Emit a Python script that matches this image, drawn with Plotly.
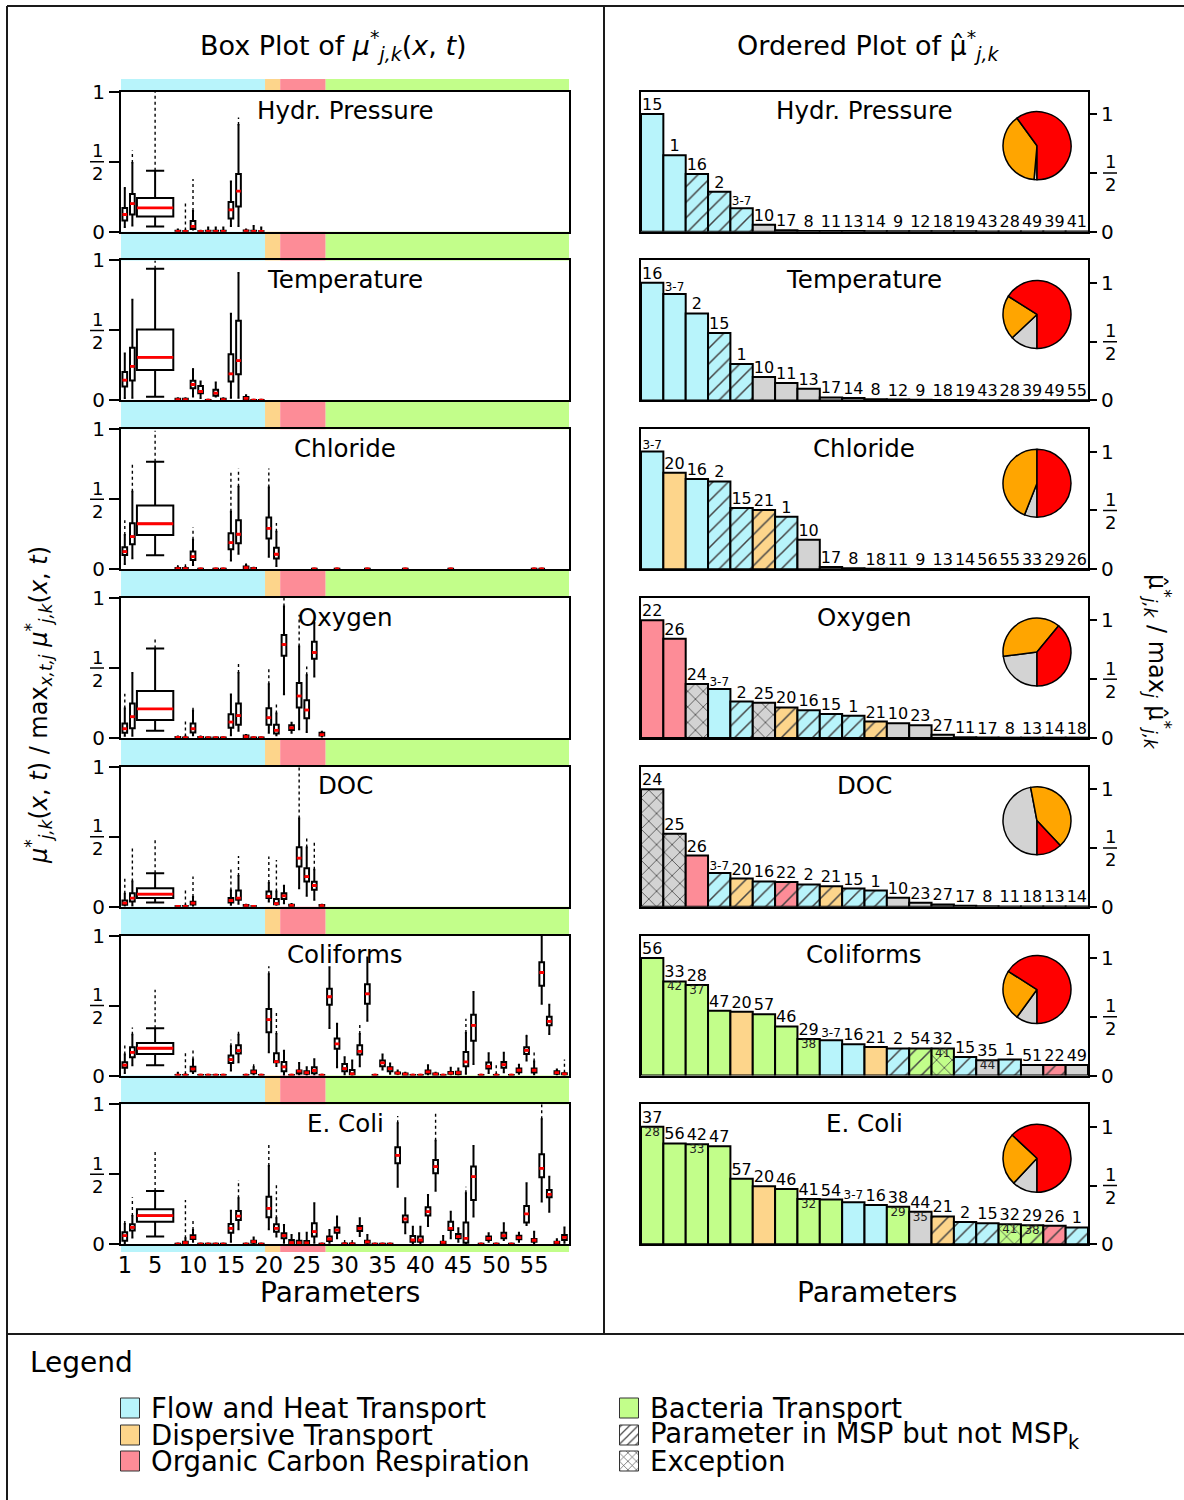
import plotly.graph_objects as go

W, H = 1184, 1500
FONT = "DejaVu Sans"

OUTPUTS = ["Hydr. Pressure", "Temperature", "Chloride", "Oxygen", "DOC", "Coliforms", "E. Coli"]

GROUP_COLORS = {"F": "#B8F4FB", "D": "#FDD58B", "O": "#FD8C97", "B": "#C2FE8A", "N": "#D3D3D3", "W": "#FFFFFF"}
GROUP_ORDER = ["F", "D", "O", "B"]
GROUP_EDGES = [0.5, 19.5, 21.5, 27.5, 59.6]
PIE_COLORS = ["#FF0000", "#FFA500", "#D3D3D3"]

X_TICKS = [1, 5, 10, 15, 20, 25, 30, 35, 40, 45, 50, 55]

# ---------------- box plot statistics: param -> (low whisker, q1, median, q3, high whisker, max outlier)
TINY = (0.0, 0.0, 0.002, 0.004, 0.006, 0.006)

BOX_HYDR = {
    1: (0.033, 0.08, 0.123, 0.17, 0.31, 0.32), 2: (0.045, 0.123, 0.2, 0.27, 0.49, 0.58),
    5: (0.038, 0.109, 0.17, 0.24, 0.436, 1.0), 8: (0, 0, 0.003, 0.006, 0.015, 0.015),
    9: (0, 0, 0.002, 0.004, 0.008, 0.22), 10: (0.015, 0.02, 0.038, 0.076, 0.147, 0.377),
    11: TINY, 12: (0, 0, 0.003, 0.006, 0.03, 0.03), 13: (0, 0, 0.003, 0.006, 0.03, 0.03),
    14: (0, 0, 0.003, 0.006, 0.03, 0.03), 15: (0.04, 0.095, 0.156, 0.213, 0.358, 0.358),
    16: (0.04, 0.18, 0.29, 0.412, 0.763, 0.815), 17: (0, 0, 0.004, 0.008, 0.015, 0.015),
    18: (0, 0, 0.003, 0.006, 0.04, 0.04), 19: (0, 0, 0.002, 0.004, 0.03, 0.03),
}
BOX_TEMP = {
    1: (0.017, 0.1, 0.145, 0.204, 0.336, 0.336), 2: (0.02, 0.142, 0.244, 0.377, 0.72, 0.72),
    5: (0.026, 0.218, 0.308, 0.507, 0.94, 1.0), 8: (0, 0, 0.006, 0.012, 0.015, 0.015),
    9: (0, 0, 0.006, 0.012, 0.015, 0.015), 10: (0.028, 0.088, 0.114, 0.14, 0.223, 0.23),
    11: (0.017, 0.052, 0.064, 0.104, 0.135, 0.135), 12: TINY,
    13: (0.028, 0.033, 0.052, 0.076, 0.128, 0.128), 14: (0, 0, 0.006, 0.012, 0.015, 0.015),
    15: (0.02, 0.135, 0.19, 0.33, 0.62, 0.62), 16: (0.02, 0.187, 0.284, 0.569, 0.91, 0.91),
    17: (0, 0.005, 0.015, 0.025, 0.038, 0.038), 18: TINY, 19: TINY,
}
BOX_CHLO = {
    1: (0.038, 0.102, 0.126, 0.157, 0.245, 0.35), 2: (0.078, 0.178, 0.233, 0.328, 0.553, 0.76),
    5: (0.1, 0.245, 0.325, 0.456, 0.767, 0.99), 8: (0, 0, 0.004, 0.008, 0.015, 0.03),
    9: (0, 0, 0.004, 0.008, 0.015, 0.055), 10: (0.03, 0.066, 0.09, 0.126, 0.21, 0.3),
    11: TINY, 13: TINY, 14: TINY,
    15: (0.062, 0.143, 0.19, 0.257, 0.41, 0.71), 16: (0.11, 0.185, 0.25, 0.35, 0.59, 0.72),
    17: (0, 0.004, 0.012, 0.02, 0.03, 0.043), 18: (0, 0, 0.004, 0.008, 0.01, 0.01),
    20: (0.09, 0.22, 0.292, 0.37, 0.584, 0.72), 21: (0.024, 0.076, 0.107, 0.154, 0.268, 0.33),
    26: TINY, 29: TINY, 33: TINY, 38: TINY, 44: TINY, 55: TINY, 56: TINY,
}
BOX_OXY = {
    1: (0.017, 0.038, 0.066, 0.104, 0.21, 0.317), 2: (0.017, 0.069, 0.152, 0.246, 0.464, 0.464),
    5: (0.052, 0.128, 0.208, 0.336, 0.64, 0.71), 8: (0, 0, 0.004, 0.008, 0.01, 0.01),
    9: (0, 0, 0.002, 0.004, 0.01, 0.12), 10: (0.02, 0.04, 0.066, 0.104, 0.194, 0.235),
    11: (0, 0, 0.004, 0.008, 0.01, 0.01), 12: TINY, 13: TINY, 14: TINY,
    15: (0.02, 0.073, 0.114, 0.17, 0.31, 0.31), 16: (0.052, 0.095, 0.16, 0.246, 0.464, 0.53),
    17: (0, 0.005, 0.01, 0.018, 0.022, 0.022), 18: TINY, 19: TINY,
    20: (0.038, 0.095, 0.145, 0.213, 0.384, 0.507), 21: (0.02, 0.033, 0.055, 0.095, 0.175, 0.246),
    22: (0.313, 0.588, 0.668, 0.735, 0.94, 1.0), 23: (0.038, 0.057, 0.073, 0.092, 0.109, 0.109),
    24: (0.062, 0.218, 0.3, 0.393, 0.654, 0.88), 25: (0.043, 0.142, 0.2, 0.27, 0.448, 0.51),
    26: (0.44, 0.566, 0.611, 0.687, 0.822, 0.86), 27: (0.01, 0.018, 0.024, 0.038, 0.045, 0.045),
}
BOX_DOC = {
    1: (0.01, 0.014, 0.026, 0.045, 0.093, 0.21), 2: (0.01, 0.038, 0.062, 0.097, 0.18, 0.418),
    5: (0.031, 0.062, 0.09, 0.133, 0.24, 0.496), 8: TINY,
    9: (0, 0, 0.003, 0.006, 0.01, 0.133), 10: (0.007, 0.017, 0.026, 0.036, 0.069, 0.216),
    15: (0.014, 0.031, 0.045, 0.062, 0.116, 0.268), 16: (0.021, 0.05, 0.062, 0.116, 0.22, 0.363),
    17: (0, 0.003, 0.008, 0.012, 0.015, 0.015), 18: TINY,
    20: (0.038, 0.062, 0.074, 0.109, 0.169, 0.359), 21: (0.014, 0.018, 0.022, 0.055, 0.109, 0.335),
    22: (0.026, 0.055, 0.078, 0.097, 0.15, 0.15), 23: (0, 0.005, 0.01, 0.015, 0.02, 0.02),
    24: (0.133, 0.287, 0.347, 0.425, 0.63, 1.0), 25: (0.078, 0.18, 0.216, 0.276, 0.423, 0.506),
    26: (0.05, 0.121, 0.152, 0.178, 0.264, 0.473), 27: (0, 0.003, 0.008, 0.012, 0.015, 0.015),
}
BOX_COLI = {
    1: (0.019, 0.055, 0.074, 0.095, 0.15, 0.233), 2: (0.074, 0.13, 0.166, 0.202, 0.292, 0.344),
    5: (0.074, 0.154, 0.195, 0.233, 0.337, 0.613), 8: (0, 0, 0.002, 0.004, 0.02, 0.02),
    9: (0, 0, 0.002, 0.004, 0.01, 0.178), 10: (0.019, 0.031, 0.048, 0.062, 0.114, 0.185),
    11: TINY, 12: TINY, 13: TINY, 14: TINY,
    15: (0.036, 0.09, 0.114, 0.143, 0.209, 0.256), 16: (0.095, 0.157, 0.178, 0.216, 0.292, 0.335),
    17: TINY, 18: (0.007, 0.017, 0.026, 0.036, 0.059, 0.1), 19: TINY,
    20: (0.166, 0.309, 0.399, 0.475, 0.724, 0.78), 21: (0.069, 0.095, 0.1, 0.16, 0.297, 0.463),
    22: (0.002, 0.031, 0.062, 0.097, 0.178, 0.178), 23: TINY,
    24: (0.007, 0.014, 0.031, 0.036, 0.09, 0.09), 25: (0.005, 0.012, 0.021, 0.031, 0.059, 0.059),
    26: (0.007, 0.017, 0.036, 0.059, 0.116, 0.116), 27: TINY,
    28: (0.34, 0.506, 0.563, 0.62, 0.774, 0.774), 29: (0.059, 0.192, 0.226, 0.264, 0.37, 0.37),
    30: (0.007, 0.031, 0.05, 0.083, 0.13, 0.13), 31: (0.002, 0.007, 0.012, 0.04, 0.107, 0.107),
    32: (0.066, 0.15, 0.173, 0.216, 0.297, 0.363), 33: (0.392, 0.513, 0.584, 0.653, 0.843, 0.843),
    34: TINY, 35: (0.043, 0.066, 0.09, 0.107, 0.15, 0.15),
    36: (0.012, 0.031, 0.05, 0.059, 0.086, 0.086), 37: (0.01, 0.014, 0.017, 0.021, 0.036, 0.036),
    38: (0, 0.004, 0.01, 0.014, 0.02, 0.02), 39: TINY, 40: TINY,
    41: (0.007, 0.014, 0.026, 0.036, 0.074, 0.074), 42: (0, 0.004, 0.01, 0.014, 0.02, 0.02),
    43: TINY, 44: (0.007, 0.012, 0.017, 0.026, 0.055, 0.055),
    45: (0.005, 0.01, 0.02, 0.028, 0.05, 0.05), 46: (0.012, 0.066, 0.097, 0.169, 0.304, 0.406),
    47: (0.083, 0.249, 0.359, 0.435, 0.596, 0.596), 48: TINY,
    49: (0.019, 0.05, 0.066, 0.093, 0.159, 0.159), 50: (0, 0, 0.002, 0.004, 0.01, 0.09),
    51: (0.024, 0.055, 0.078, 0.097, 0.162, 0.162), 52: TINY,
    53: (0.012, 0.024, 0.038, 0.05, 0.078, 0.078), 54: (0.107, 0.154, 0.18, 0.202, 0.28, 0.292),
    55: (0.007, 0.021, 0.038, 0.05, 0.1, 0.173), 56: (0.513, 0.641, 0.736, 0.81, 1.0, 1.0),
    57: (0.297, 0.359, 0.387, 0.42, 0.506, 0.506), 58: (0.007, 0.012, 0.021, 0.031, 0.043, 0.043),
    59: (0, 0.007, 0.012, 0.017, 0.02, 0.114),
}
BOX_ECOLI = {
    1: (0.007, 0.026, 0.062, 0.086, 0.145, 0.174), 2: (0.048, 0.098, 0.121, 0.143, 0.202, 0.336),
    5: (0.055, 0.162, 0.205, 0.25, 0.381, 0.662), 8: TINY,
    9: (0, 0.007, 0.012, 0.019, 0.043, 0.317), 10: (0.019, 0.038, 0.05, 0.064, 0.102, 0.179),
    11: TINY, 12: TINY, 13: TINY, 14: TINY,
    15: (0.019, 0.083, 0.114, 0.145, 0.24, 0.24), 16: (0.107, 0.174, 0.202, 0.238, 0.329, 0.46),
    17: TINY, 18: (0.007, 0.012, 0.019, 0.026, 0.048, 0.048), 19: TINY,
    20: (0.107, 0.193, 0.257, 0.34, 0.56, 0.721), 21: (0.055, 0.09, 0.114, 0.143, 0.186, 0.436),
    22: (0.012, 0.043, 0.062, 0.079, 0.138, 0.138), 23: (0.002, 0.007, 0.012, 0.031, 0.067, 0.067),
    24: (0.002, 0.007, 0.012, 0.026, 0.079, 0.079), 25: (0.002, 0.007, 0.01, 0.024, 0.083, 0.083),
    26: (0.012, 0.055, 0.09, 0.15, 0.293, 0.293), 27: TINY,
    28: (0.012, 0.024, 0.038, 0.055, 0.102, 0.102), 29: (0.043, 0.083, 0.102, 0.121, 0.198, 0.198),
    30: (0, 0, 0.003, 0.006, 0.01, 0.043), 31: (0, 0, 0.003, 0.006, 0.01, 0.043),
    32: (0.06, 0.095, 0.114, 0.131, 0.186, 0.186), 33: (0.002, 0.012, 0.017, 0.026, 0.067, 0.067),
    34: TINY, 35: TINY, 36: TINY,
    37: (0.412, 0.579, 0.636, 0.693, 0.864, 0.917), 38: (0.079, 0.157, 0.181, 0.205, 0.329, 0.329),
    39: (0.002, 0.019, 0.031, 0.06, 0.126, 0.126), 40: (0.002, 0.019, 0.031, 0.055, 0.126, 0.126),
    41: (0.131, 0.205, 0.233, 0.264, 0.352, 0.352), 42: (0.383, 0.507, 0.555, 0.602, 0.74, 0.936),
    43: (0.002, 0.007, 0.014, 0.019, 0.06, 0.06), 44: (0.043, 0.102, 0.114, 0.162, 0.233, 0.233),
    45: (0.019, 0.043, 0.055, 0.074, 0.114, 0.114), 46: (0.002, 0.012, 0.043, 0.155, 0.364, 0.412),
    47: (0.198, 0.317, 0.483, 0.555, 0.702, 0.702), 48: TINY,
    49: (0.019, 0.031, 0.043, 0.055, 0.079, 0.079), 50: TINY,
    51: (0.031, 0.043, 0.062, 0.083, 0.15, 0.15), 52: TINY,
    53: (0.019, 0.036, 0.048, 0.062, 0.083, 0.083), 54: (0.138, 0.155, 0.217, 0.274, 0.436, 0.436),
    55: (0.007, 0.019, 0.029, 0.038, 0.09, 0.09), 56: (0.305, 0.479, 0.543, 0.643, 0.893, 1.0),
    57: (0.233, 0.336, 0.357, 0.388, 0.483, 0.483), 58: (0.002, 0.007, 0.014, 0.019, 0.036, 0.036),
    59: (0.012, 0.031, 0.05, 0.067, 0.121, 0.121),
}
BOXES = [BOX_HYDR, BOX_TEMP, BOX_CHLO, BOX_OXY, BOX_DOC, BOX_COLI, BOX_ECOLI]
WIDE_PARAM = 5  # parameters 3-7 shown as one wide box

# ---------------- ordered bar plots
HYDR_LABELS = ["15", "1", "16", "2", "3-7", "10", "17", "8", "11", "13", "14", "9", "12", "18", "19", "43", "28", "49", "39", "41"]
HYDR_VALUES = [1.0, 0.65, 0.49, 0.34, 0.20, 0.06, 0.012, 0.006, 0.005, 0.005, 0.004, 0.004, 0.003, 0.003, 0.003, 0.002, 0.002, 0.002, 0.002, 0.002]
HYDR_GROUPS = ["F", "F", "F", "F", "F", "N", "N", "N", "N", "N", "N", "N", "N", "N", "N", "N", "N", "N", "N", "N"]
HYDR_HATCH = ["", "", "/", "/", "/", "", "", "", "", "", "", "", "", "", "", "", "", "", "", ""]
HYDR_SUB = [""] * 20

TEMP_LABELS = ["16", "3-7", "2", "15", "1", "10", "11", "13", "17", "14", "8", "12", "9", "18", "19", "43", "28", "39", "49", "55"]
TEMP_VALUES = [1.0, 0.906, 0.74, 0.574, 0.31, 0.20, 0.148, 0.10, 0.026, 0.02, 0.01, 0.008, 0.006, 0.003, 0.003, 0.002, 0.002, 0.002, 0.002, 0.002]
TEMP_GROUPS = ["F", "F", "F", "F", "F", "N", "N", "N", "N", "N", "N", "N", "N", "N", "N", "N", "N", "N", "N", "N"]
TEMP_HATCH = ["", "", "", "/", "/", "", "", "", "", "", "", "", "", "", "", "", "", "", "", ""]
TEMP_SUB = [""] * 20

CHLO_LABELS = ["3-7", "20", "16", "2", "15", "21", "1", "10", "17", "8", "18", "11", "9", "13", "14", "56", "55", "33", "29", "26"]
CHLO_VALUES = [1.0, 0.82, 0.766, 0.746, 0.52, 0.504, 0.447, 0.25, 0.02, 0.008, 0.004, 0.004, 0.003, 0.003, 0.003, 0.002, 0.002, 0.002, 0.002, 0.002]
CHLO_GROUPS = ["F", "D", "F", "F", "F", "D", "F", "N", "N", "N", "N", "N", "N", "N", "N", "N", "N", "N", "N", "N"]
CHLO_HATCH = ["", "", "", "/", "/", "/", "/", "", "", "", "", "", "", "", "", "", "", "", "", ""]
CHLO_SUB = [""] * 20

OXY_LABELS = ["22", "26", "24", "3-7", "2", "25", "20", "16", "15", "1", "21", "10", "23", "27", "11", "17", "8", "13", "14", "18"]
OXY_VALUES = [1.0, 0.844, 0.46, 0.416, 0.31, 0.30, 0.26, 0.235, 0.204, 0.19, 0.14, 0.125, 0.108, 0.028, 0.006, 0.004, 0.003, 0.003, 0.003, 0.003]
OXY_GROUPS = ["O", "O", "N", "F", "F", "N", "D", "F", "F", "F", "D", "N", "N", "N", "N", "N", "N", "N", "N", "N"]
OXY_HATCH = ["", "", "x", "", "/", "x", "/", "/", "/", "/", "/", "", "", "", "", "", "", "", "", ""]
OXY_SUB = [""] * 20

DOC_LABELS = ["24", "25", "26", "3-7", "20", "16", "22", "2", "21", "15", "1", "10", "23", "27", "17", "8", "11", "18", "13", "14"]
DOC_VALUES = [1.0, 0.62, 0.435, 0.288, 0.24, 0.215, 0.21, 0.19, 0.175, 0.155, 0.138, 0.076, 0.034, 0.02, 0.008, 0.005, 0.003, 0.003, 0.003, 0.003]
DOC_GROUPS = ["N", "N", "O", "F", "D", "F", "O", "F", "D", "F", "F", "N", "N", "N", "N", "N", "N", "N", "N", "N"]
DOC_HATCH = ["x", "x", "", "/", "/", "/", "/", "/", "/", "/", "/", "", "", "", "", "", "", "", "", ""]
DOC_SUB = [""] * 20

COLI_LABELS = ["56", "33", "28", "47", "20", "57", "46", "29", "3-7", "16", "21", "2", "54", "32", "15", "35", "1", "51", "22", "49"]
COLI_SUB = ["", "42", "37", "", "", "", "", "38", "", "", "", "", "", "41", "", "44", "", "", "", ""]
COLI_VALUES = [1.0, 0.80, 0.77, 0.55, 0.543, 0.52, 0.417, 0.31, 0.30, 0.266, 0.243, 0.23, 0.23, 0.23, 0.157, 0.13, 0.137, 0.09, 0.09, 0.09]
COLI_GROUPS = ["B", "B", "B", "B", "D", "B", "B", "B", "F", "F", "D", "F", "B", "B", "F", "N", "F", "N", "O", "N"]
COLI_HATCH = ["", "", "", "", "", "", "", "", "", "", "", "/", "/", "x", "/", "", "/", "", "/", ""]

ECOLI_LABELS = ["37", "56", "42", "47", "57", "20", "46", "41", "54", "3-7", "16", "38", "44", "21", "2", "15", "32", "29", "26", "1"]
ECOLI_SUB = ["28", "", "33", "", "", "", "", "32", "", "", "", "29", "35", "", "", "", "41", "38", "", ""]
ECOLI_VALUES = [1.0, 0.857, 0.85, 0.834, 0.557, 0.494, 0.47, 0.386, 0.38, 0.357, 0.334, 0.32, 0.277, 0.237, 0.19, 0.18, 0.17, 0.163, 0.157, 0.143]
ECOLI_GROUPS = ["B", "B", "B", "B", "B", "D", "B", "B", "B", "F", "F", "B", "N", "D", "F", "F", "B", "B", "O", "F"]
ECOLI_HATCH = ["", "", "", "", "", "", "", "", "", "", "", "", "", "/", "/", "/", "x", "/", "/", "/"]

BARS = [
    (HYDR_LABELS, HYDR_VALUES, HYDR_GROUPS, HYDR_HATCH, HYDR_SUB),
    (TEMP_LABELS, TEMP_VALUES, TEMP_GROUPS, TEMP_HATCH, TEMP_SUB),
    (CHLO_LABELS, CHLO_VALUES, CHLO_GROUPS, CHLO_HATCH, CHLO_SUB),
    (OXY_LABELS, OXY_VALUES, OXY_GROUPS, OXY_HATCH, OXY_SUB),
    (DOC_LABELS, DOC_VALUES, DOC_GROUPS, DOC_HATCH, DOC_SUB),
    (COLI_LABELS, COLI_VALUES, COLI_GROUPS, COLI_HATCH, COLI_SUB),
    (ECOLI_LABELS, ECOLI_VALUES, ECOLI_GROUPS, ECOLI_HATCH, ECOLI_SUB),
]

# pie shares (red, orange, gray), counter-clockwise from 6 o'clock
PIE_SHARES = [
    [60.0, 38.6, 1.4], [66.0, 21.0, 13.0], [50.0, 44.0, 6.0], [39.0, 38.0, 23.0],
    [12.0, 41.0, 47.0], [66.0, 24.0, 10.0], [63.0, 25.0, 12.0],
]

LEGEND_LABELS = ["Flow and Heat Transport", "Dispersive Transport", "Organic Carbon Respiration",
                 "Bacteria Transport", "Parameter in MSP but not MSP<sub>k</sub>", "Exception"]
LEGEND_GROUPS = ["F", "D", "O", "B", "W", "W"]
LEGEND_HATCH = ["", "", "", "", "/", "x"]

# ---------------- layout geometry (pixels)
L_X0, L_X1 = 121, 569
R_X0, R_X1 = 641, 1088
TOP0, STEP, AXH = 91.7, 168.77, 140.0
PIE_CX, PIE_DY, PIE_R = 1037, 54, 34


def px(x):
    return x / W


def py(y):
    return 1 - y / H


def aref(n, kind):
    return kind if n == 1 else f"{kind}{n}"


def note(text, x, y, size, **kw):
    d = dict(text=text, x=px(x), y=py(y), xref="paper", yref="paper", showarrow=False,
             xanchor="center", yanchor="middle", font=dict(size=size))
    d.update(kw)
    return d


fig = go.Figure()
layout = dict(
    width=W, height=H, autosize=False,
    margin=dict(l=0, r=0, t=0, b=0, pad=0, autoexpand=False),
    paper_bgcolor="white", plot_bgcolor="white", showlegend=False,
    boxmode="overlay", barmode="overlay", hovermode=False,
    font=dict(family=FONT, color="black"),
)
shapes, annotations = [], []

axis_common = dict(showline=True, mirror=True, linecolor="black", linewidth=2,
                   showgrid=False, zeroline=False)

tops = [TOP0 + i * STEP for i in range(len(OUTPUTS))]

for i, name in enumerate(OUTPUTS):
    top, bot = tops[i], tops[i] + AXH
    li, ri = i + 1, i + 8
    lx, ly, rx, ry = aref(li, "x"), aref(li, "y"), aref(ri, "x"), aref(ri, "y")

    # ---- left axes (box plots)
    layout[aref(li, "xaxis")] = dict(
        domain=[px(L_X0), px(L_X1)], anchor=ly, range=[0.5, 59.6], ticks="",
        tickvals=X_TICKS, showticklabels=(i == len(OUTPUTS) - 1),
        tickfont=dict(size=22.5), **axis_common)
    layout[aref(li, "yaxis")] = dict(
        domain=[py(bot), py(top)], anchor=lx, range=[0, 1], tickvals=[0, 1],
        ticktext=["0", "1"], ticks="outside", ticklen=10, tickwidth=1.5,
        tickcolor="black", tickfont=dict(size=20),
        minor=dict(tickvals=[0.5], ticks="outside", ticklen=10, tickwidth=1.5, tickcolor="black"),
        **axis_common)

    # ---- right axes (ordered bars)
    layout[aref(ri, "xaxis")] = dict(
        domain=[px(R_X0), px(R_X1)], anchor=ry, range=[-0.5, 19.5], ticks="",
        showticklabels=False, **axis_common)
    layout[aref(ri, "yaxis")] = dict(
        domain=[py(bot), py(top)], anchor=rx, range=[0, 1.19], side="right",
        tickvals=[0, 1], ticktext=["0", "1"], ticks="outside", ticklen=7,
        tickwidth=1.5, tickcolor="black", tickfont=dict(size=20),
        minor=dict(tickvals=[0.5], ticks="outside", ticklen=7, tickwidth=1.5, tickcolor="black"),
        **axis_common)

    # stacked 1/2 tick labels
    for yref, xc in ((ly, 97), (ry, 1110)):
        for txt, shift in (("1", 11), ("2", -12)):
            annotations.append(dict(text=txt, x=px(xc), y=0.5, xref="paper", yref=yref,
                                    yshift=shift, xanchor="center", yanchor="middle",
                                    showarrow=False, font=dict(size=18)))
        shapes.append(dict(type="line", xref="paper", yref=yref, x0=px(xc - 7), x1=px(xc + 7),
                           y0=0.5, y1=0.5, line=dict(color="black", width=1.5)))

    # subplot titles
    for xc in ((L_X0 + L_X1) / 2, (R_X0 + R_X1) / 2):
        annotations.append(note(name, xc, top + 19, 24.5))

    # ---- box plots
    data = BOXES[i]
    normal = [p for p in sorted(data) if p != WIDE_PARAM]
    med_x, med_y, out_x, out_y = [], [], [], []
    for params, width, ww in ((normal, 0.62, 0.45), ([WIDE_PARAM], 4.8, 0.5)):
        fig.add_trace(go.Box(
            x=params,
            lowerfence=[data[p][0] for p in params], q1=[data[p][1] for p in params],
            median=[data[p][2] for p in params], q3=[data[p][3] for p in params],
            upperfence=[data[p][4] for p in params],
            width=width, whiskerwidth=ww, boxpoints=False,
            line=dict(color="black", width=2), fillcolor="white",
            xaxis=lx, yaxis=ly, hoverinfo="skip"))
        for p in params:
            med_x += [p - width / 2, p + width / 2, None]
            med_y += [data[p][2], data[p][2], None]
            if data[p][5] > data[p][4]:
                out_x += [p, p, None]
                out_y += [data[p][4], data[p][5], None]
    fig.add_trace(go.Scatter(x=out_x, y=out_y, mode="lines", xaxis=lx, yaxis=ly,
                             line=dict(color="black", width=1.4, dash="dot"), hoverinfo="skip"))
    fig.add_trace(go.Scatter(x=med_x, y=med_y, mode="lines", xaxis=lx, yaxis=ly,
                             line=dict(color="red", width=2.8), hoverinfo="skip"))

    # ---- ordered bars
    labels, values, groups, hatch, sub = BARS[i]
    colors = [GROUP_COLORS[g] for g in groups]
    xs = list(range(len(labels)))
    fig.add_trace(go.Bar(
        x=xs, y=values, width=1.0, xaxis=rx, yaxis=ry, hoverinfo="skip",
        marker=dict(color=colors, line=dict(color="black", width=2),
                    pattern=dict(shape=hatch, fgcolor="black", fgopacity=1,
                                 size=11, solidity=0.14, fillmode="overlay"))))
    fig.add_trace(go.Scatter(
        x=xs, y=values, text=labels, mode="text", textposition="top center",
        textfont=dict(size=[12 if l == "3-7" else 16 for l in labels], color="black"),
        xaxis=rx, yaxis=ry, cliponaxis=False, hoverinfo="skip"))
    sub_idx = [k for k, s in enumerate(sub) if s]
    if sub_idx:
        fig.add_trace(go.Scatter(
            x=sub_idx, y=[values[k] for k in sub_idx], text=[sub[k] for k in sub_idx],
            mode="text", textposition="bottom center",
            textfont=dict(size=12, color="#222222"), xaxis=rx, yaxis=ry,
            cliponaxis=False, hoverinfo="skip"))

    # ---- pie (drawn clockwise from 6 o'clock in reversed order = counter-clockwise red, orange, gray)
    cy = top + PIE_DY
    fig.add_trace(go.Pie(
        values=PIE_SHARES[i][::-1], labels=["c", "b", "a"], sort=False,
        direction="clockwise", rotation=180, textinfo="none", hoverinfo="skip",
        marker=dict(colors=PIE_COLORS[::-1], line=dict(color="black", width=1.5)),
        domain=dict(x=[px(PIE_CX - PIE_R), px(PIE_CX + PIE_R)],
                    y=[py(cy + PIE_R), py(cy - PIE_R)]),
        showlegend=False))

# ---- colour bands around the box-plot panels
gaps = [(79, tops[0])] + [(tops[k] + AXH, tops[k + 1]) for k in range(len(tops) - 1)] + \
       [(tops[-1] + AXH, 1252)]
for (a, b) in gaps:
    for k, g in enumerate(GROUP_ORDER):
        shapes.append(dict(type="rect", xref="x7", yref="paper",
                           x0=GROUP_EDGES[k], x1=GROUP_EDGES[k + 1], y0=py(b), y1=py(a),
                           fillcolor=GROUP_COLORS[g], line=dict(width=0), layer="below"))

# ---- frame lines
for (x0, y0, x1, y1) in ((7, 6, W, 6), (7, 6, 7, H), (604, 6, 604, 1334), (7, 1334, W, 1334)):
    shapes.append(dict(type="line", xref="paper", yref="paper", x0=px(x0), y0=py(y0),
                       x1=px(x1), y1=py(y1), line=dict(color="#1a1a1a", width=2)))

# ---- titles and axis titles
annotations += [
    note("Box Plot of <i>μ</i><sup>*</sup><sub><i>j,k</i></sub>(<i>x</i>, <i>t</i>)", 333, 45, 27),
    note("Ordered Plot of μ̂<sup>*</sup><sub><i>j,k</i></sub>", 868, 45, 27),
    note("Parameters", 340, 1292, 28),
    note("Parameters", 877, 1292, 28),
    note("<i>μ</i><sup>*</sup><sub><i>j,k</i></sub>(<i>x</i>, <i>t</i>) / max<sub><i>x,t,j</i></sub> "
         "<i>μ</i><sup>*</sup><sub><i>j,k</i></sub>(<i>x</i>, <i>t</i>)", 38, 705, 24, textangle=-90),
    note("μ̂<sup>*</sup><sub><i>j,k</i></sub> / max<sub><i>j</i></sub> μ̂<sup>*</sup><sub><i>j,k</i></sub>",
         1158, 662, 24, textangle=90),
    note("Legend", 28, 1362, 28, xanchor="left"),
]

# ---- legend (swatches drawn on a pixel-scaled helper axis)
layout["xaxis15"] = dict(domain=[0, 1], range=[0, W], visible=False, anchor="y15")
layout["yaxis15"] = dict(domain=[0, py(1334)], range=[H, 1334], visible=False, anchor="x15")
SW_X = [130, 130, 130, 629, 629, 629]
SW_Y = [1408, 1435, 1461, 1408, 1435, 1461]
sw_colors = [GROUP_COLORS[g] for g in LEGEND_GROUPS]
fig.add_trace(go.Bar(
    x=SW_X, y=[20] * 6, base=[y - 10 for y in SW_Y], width=19, xaxis="x15", yaxis="y15",
    hoverinfo="skip",
    marker=dict(color=sw_colors, line=dict(color="#333333", width=1),
                pattern=dict(shape=LEGEND_HATCH, fgcolor="#333333", fgopacity=1,
                             size=6, solidity=0.2, fillmode="overlay"))))
for lab, sx, sy in zip(LEGEND_LABELS, SW_X, SW_Y):
    annotations.append(note(lab, sx + 19, sy, 27.5, xanchor="left"))

layout["shapes"] = shapes
layout["annotations"] = annotations
fig.update_layout(**layout)

fig.write_html("out.html", config={"displayModeBar": False},
               post_script="document.body.style.margin='0';")
